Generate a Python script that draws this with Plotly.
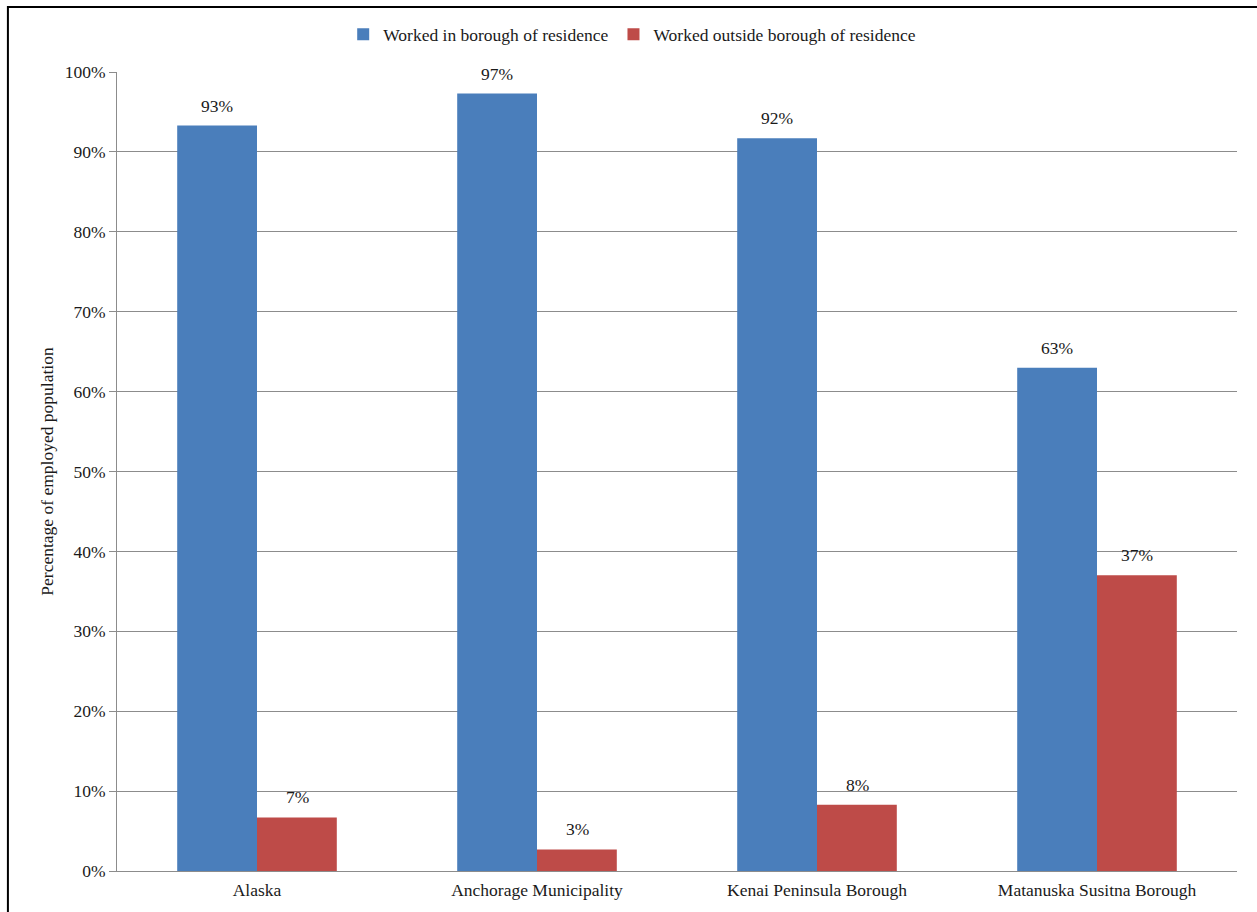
import plotly.graph_objects as go

categories = ["Alaska", "Anchorage Municipality", "Kenai Peninsula Borough", "Matanuska Susitna Borough"]
worked_in = [93.3, 97.3, 91.7, 63.0]
worked_outside = [6.7, 2.7, 8.3, 37.0]
series_names = ["Worked in borough of residence", "Worked outside borough of residence"]
tick_vals = [0, 10, 20, 30, 40, 50, 60, 70, 80, 90, 100]
tick_text = [f"{v}%" for v in tick_vals]

FONT = "Liberation Serif, Times New Roman, serif"
FS = 17.5
BLUE = "#4A7EBB"
RED = "#BE4B48"
TXT = "#1a1a1a"

fig = go.Figure()
fig.add_trace(go.Bar(
    x=categories, y=worked_in, name=series_names[0],
    marker=dict(color=BLUE, line=dict(width=0)),
))
fig.add_trace(go.Bar(
    x=categories, y=worked_outside, name=series_names[1],
    marker=dict(color=RED, line=dict(width=0)),
))

BAR_HALF_PX = 40  # half of a bar's width in pixels, for label placement
for series, shift in ((worked_in, -BAR_HALF_PX), (worked_outside, BAR_HALF_PX)):
    for cat, val in zip(categories, series):
        fig.add_annotation(x=cat, y=val, xref="x", yref="y", text=f"{val:.0f}%",
                           showarrow=False, xshift=shift, yshift=8, yanchor="bottom",
                           font=dict(family=FONT, size=FS, color=TXT))

fig.update_layout(
    width=1257, height=912,
    margin=dict(l=117, r=20, t=72, b=39),
    paper_bgcolor="white", plot_bgcolor="white",
    barmode="group", bargap=0.43, bargroupgap=0,
    font=dict(family=FONT, size=FS, color=TXT),
    legend=dict(orientation="h", x=0.46, xanchor="center", y=1.047, yanchor="middle",
                font=dict(family=FONT, size=FS, color=TXT),
                itemwidth=30, tracegroupgap=0),
    xaxis=dict(showline=True, linecolor="#8c8c8c", linewidth=1, ticks="",
               tickfont=dict(family=FONT, size=FS, color=TXT), showgrid=False,
               ticklabelstandoff=3),
    yaxis=dict(range=[0, 100], tickmode="array", tickvals=tick_vals, ticktext=tick_text,
               showgrid=True, gridcolor="#8c8c8c", gridwidth=1,
               showline=True, linecolor="#8c8c8c", linewidth=1,
               ticks="outside", ticklen=7, tickcolor="#8c8c8c",
               tickfont=dict(family=FONT, size=FS, color=TXT),
               title=dict(text="Percentage of employed population",
                          font=dict(family=FONT, size=FS, color=TXT), standoff=6),
               zeroline=False, automargin=False),
    showlegend=True,
)

# outer black frame (image is cropped on right/bottom)
fig.add_shape(type="rect", xref="paper", yref="paper",
              x0=-0.0974, x1=1.05, y0=-0.06, y1=1.0812,
              line=dict(color="black", width=2), fillcolor="rgba(0,0,0,0)", layer="above")

fig.write_html("out.html", config={"displayModeBar": False},
               post_script="document.body.style.margin='0';document.body.style.padding='0';")
